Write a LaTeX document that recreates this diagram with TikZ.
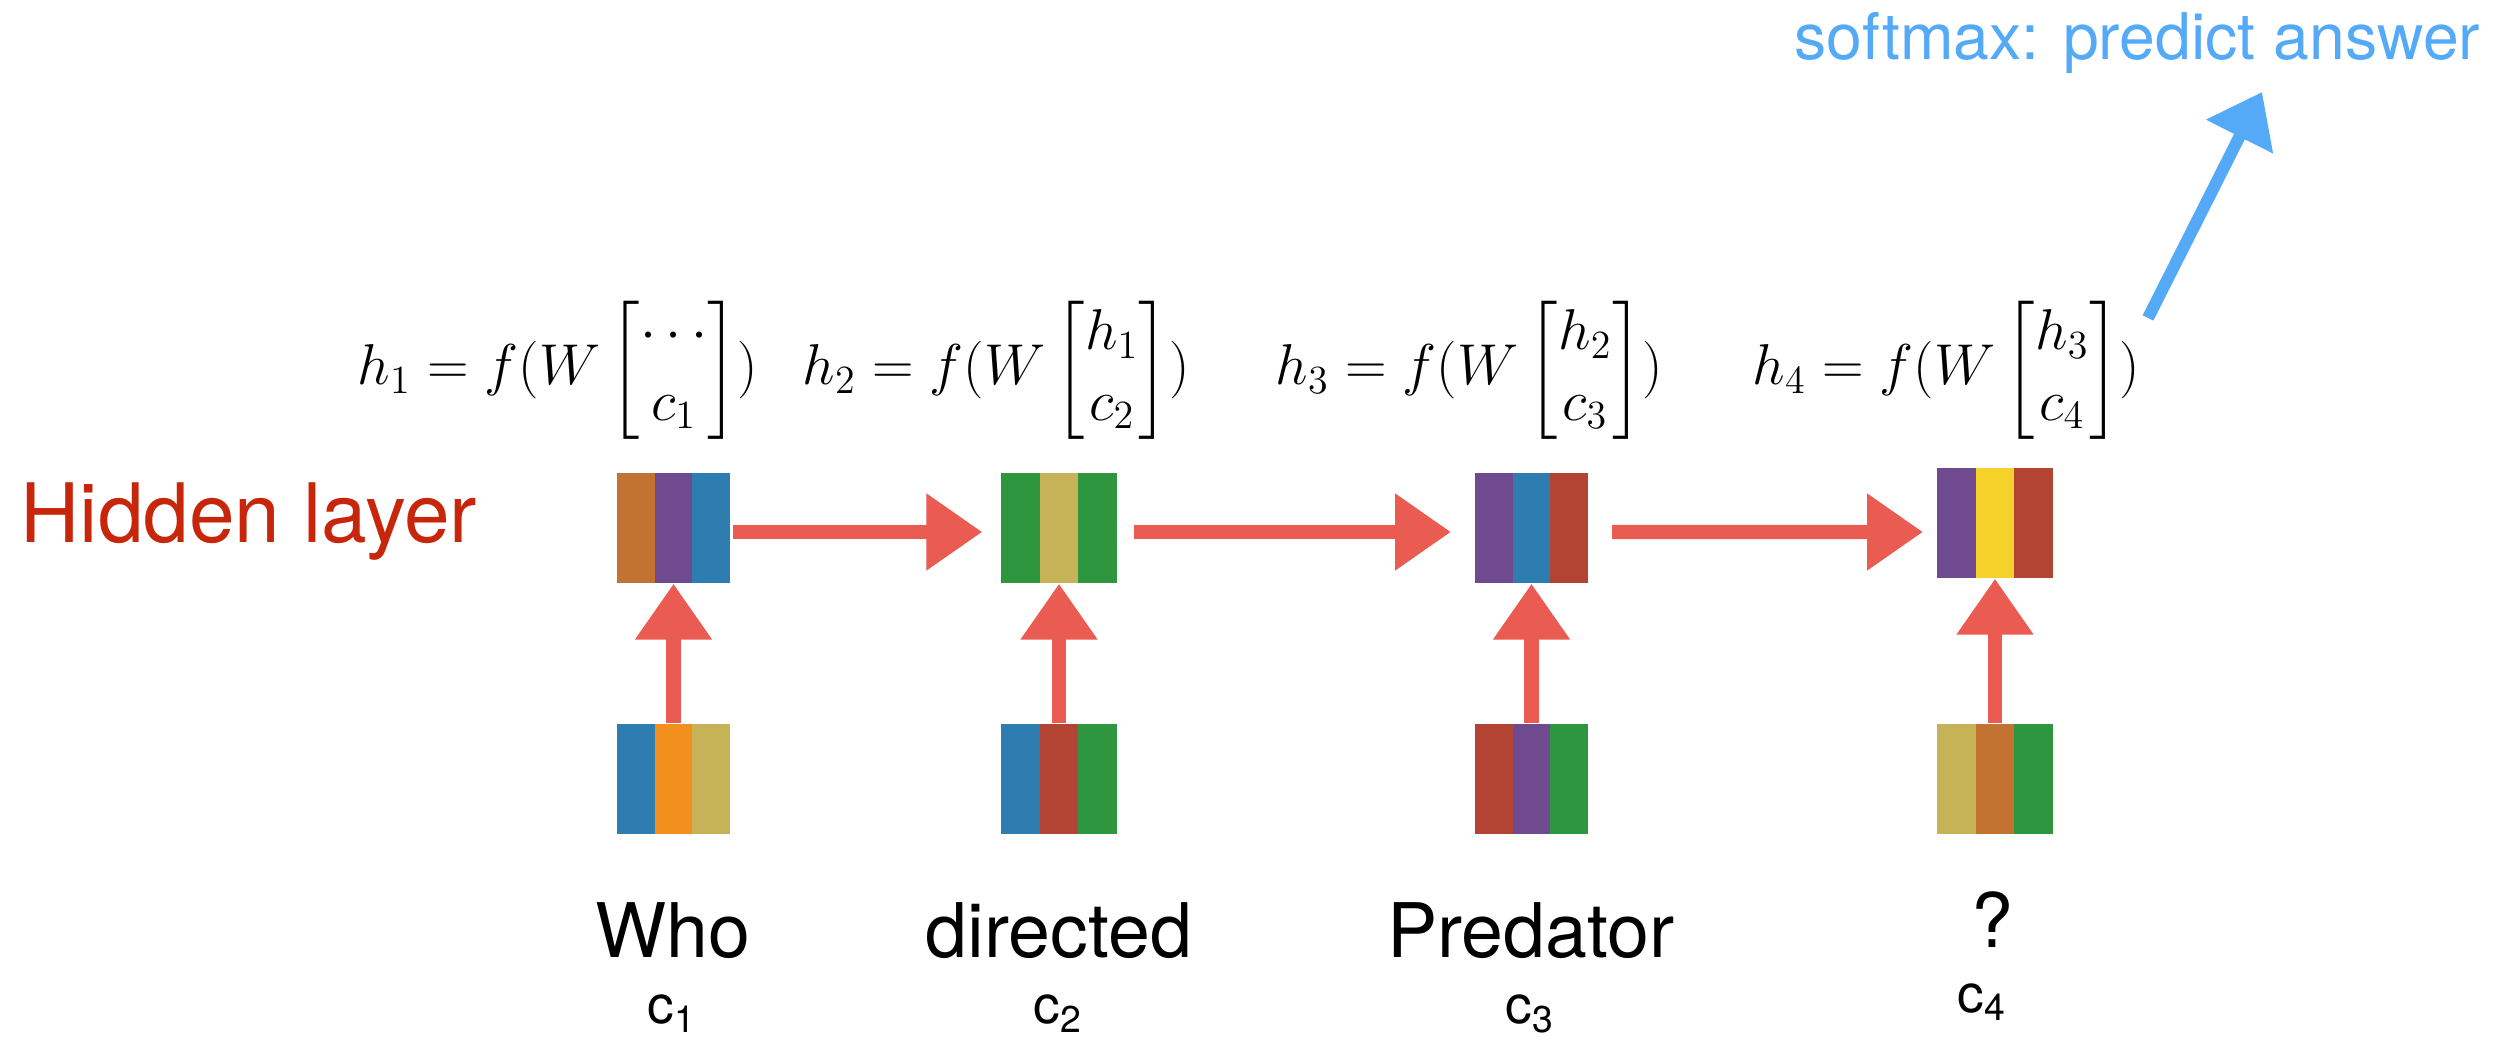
\documentclass[tikz,border=0pt]{standalone}
\usepackage{amsmath}
\usepackage{fontspec}
\setsansfont{TeX Gyre Heros}
\usetikzlibrary{arrows.meta,fit}

% stripe colours of the word / hidden vectors
\definecolor{vbrown}{HTML}{C27331}
\definecolor{vpurple}{HTML}{6F4A8E}
\definecolor{vblue}{HTML}{2E7DB0}
\definecolor{vgreen}{HTML}{2F9640}
\definecolor{vkhaki}{HTML}{C6B357}
\definecolor{vrust}{HTML}{B34433}
\definecolor{vorange}{HTML}{F28F1D}
\definecolor{vyellow}{HTML}{F5D22A}
% annotation colours
\definecolor{arrowred}{HTML}{EA5B52}
\definecolor{outblue}{HTML}{55AAF8}
\definecolor{hiddenred}{HTML}{C8260A}

% \vecbox{name}{left}{top}{width}{height}{stripe 1}{stripe 2}{stripe 3}
\newcommand\vecbox[8]{%
  \fill[#6] (#2,#3) rectangle ++({#4/3},#5);
  \fill[#7] ({#2+#4/3},#3) rectangle ++({#4/3},#5);
  \fill[#8] ({#2+2*#4/3},#3) rectangle ++({#4/3},#5);
  \path (#2,#3) coordinate (#1-nw) ++(#4,#5) coordinate (#1-se);
  \node[inner sep=0pt, fit=(#1-nw)(#1-se)] (#1) {};
}

\tikzset{
  flow/.style={draw=arrowred, line width=4.3pt,
    -{Triangle[length=16.8pt,width=22pt]}},
  outflow/.style={draw=outblue, line width=3.6pt,
    -{Triangle[length=15pt,width=21.6pt]}},
  formula/.style={anchor=base west, inner sep=0pt,
    font=\fontsize{17.8}{21.2}\selectfont},
  word/.style={anchor=base, inner sep=0pt,
    font=\sffamily\fontsize{22.6}{27}\selectfont},
  clabel/.style={anchor=base, inner sep=0pt,
    font=\sffamily\fontsize{16}{19}\selectfont},
}

\begin{document}
\begin{tikzpicture}[x=0.3pt,y=-0.3pt]
\useasboundingbox (0,0) rectangle (2514,1043);

% hidden-state vectors
\vecbox{h1}{617}{473}{113}{110}{vbrown}{vpurple}{vblue}
\vecbox{h2}{1001}{473}{116}{110}{vgreen}{vkhaki}{vgreen}
\vecbox{h3}{1475}{473}{113}{110}{vpurple}{vblue}{vrust}
\vecbox{h4}{1937}{468}{116}{110}{vpurple}{vyellow}{vrust}

% word vectors
\vecbox{x1}{617}{724}{113}{110}{vblue}{vorange}{vkhaki}
\vecbox{x2}{1001}{724}{116}{110}{vblue}{vrust}{vgreen}
\vecbox{x3}{1475}{724}{113}{110}{vrust}{vpurple}{vgreen}
\vecbox{x4}{1937}{724}{116}{110}{vkhaki}{vbrown}{vgreen}

% recurrence
\draw[flow, shorten <=0.6pt, shorten >=5.4pt]
  ([yshift=-1.2pt]h1.east) -- ([yshift=-1.2pt]h2.west);
\draw[flow, shorten <=5pt, shorten >=7pt]
  ([yshift=-1.2pt]h2.east) -- ([yshift=-1.2pt]h3.west);
\draw[flow, shorten <=7pt, shorten >=4pt]
  ([yshift=-1.2pt]h3.east) -- ([yshift=-2.7pt]h4.west);

% inputs
\foreach \i in {1,2,3,4}
  \draw[flow] (x\i.north) -- (h\i.south);

% equations
\node[formula] (f1) at (357,385)
  {$h_1 = f(W \begin{bmatrix}\cdots\\ c_1\end{bmatrix})$};
\node[formula] (f2) at (802,385)
  {$h_2 = f(W \begin{bmatrix}h_1\\ c_2\end{bmatrix})$};
\node[formula] (f3) at (1275,385)
  {$h_3 = f(W \begin{bmatrix}h_2\\ c_3\end{bmatrix})$};
\node[formula] (f4) at (1752,385)
  {$h_4 = f(W \begin{bmatrix}h_3\\ c_4\end{bmatrix})$};

% labels
\node[anchor=base west, inner sep=0pt, text=hiddenred,
  font=\sffamily\fontsize{24.6}{29}\selectfont] (hl) at (20,543) {Hidden layer};
\node[anchor=base west, inner sep=0pt, text=outblue,
  font=\sffamily\fontsize{19.3}{23}\selectfont] (sm) at (1794,60)
  {softmax: predict answer};

% output arrow
\coordinate (outtail) at (2148,318);
\coordinate (outtip) at (2262,92);
\draw[outflow] (outtail) -- (outtip);

% words
\node[word] (w1) at (673,958) {Who};
\node[word] (w2) at (1059,958) {directed};
\node[word] (w3) at (1531,958) {Predator};
\node[word] (w4) at (1992,948) {?};

\node[clabel] (c1) at (672,1024) {c\textsubscript{1}};
\node[clabel] (c2) at (1058,1024) {c\textsubscript{2}};
\node[clabel] (c3) at (1530,1024) {c\textsubscript{3}};
\node[clabel] (c4) at (1982,1012) {c\textsubscript{4}};
\end{tikzpicture}
\end{document}
